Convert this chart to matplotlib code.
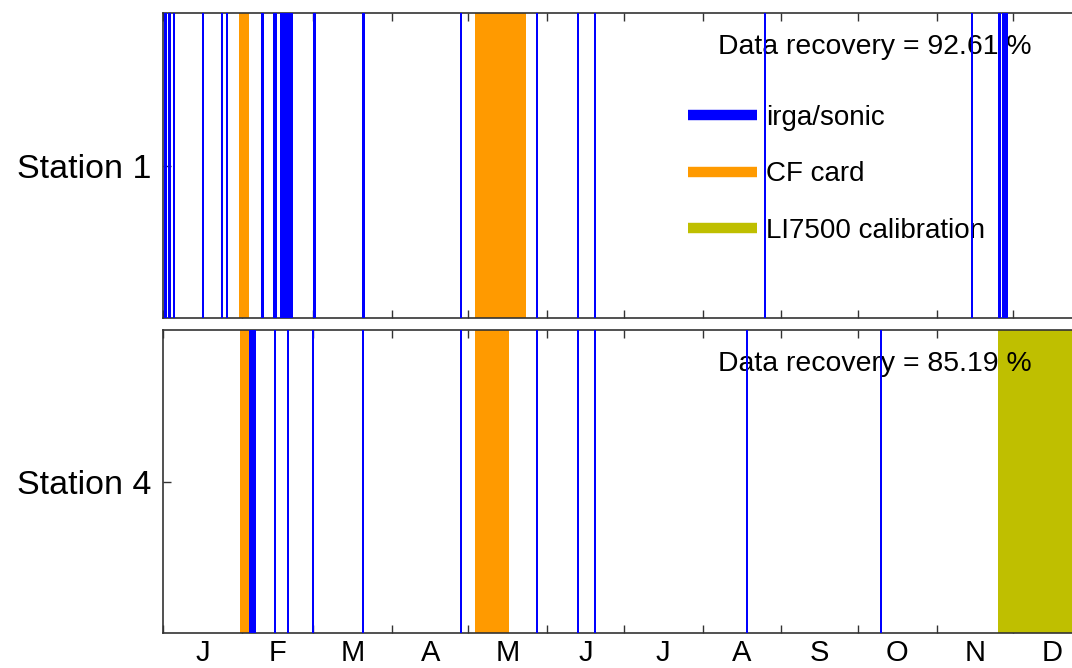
import matplotlib
matplotlib.use("Agg")
import matplotlib.pyplot as plt
from matplotlib.lines import Line2D
import numpy as np

plt.rcParams['font.family'] = ['Liberation Sans', 'DejaVu Sans']

# ---- data (day of year, start/end of each outage) ----
stations = ["Station 1", "Station 4"]
recovery = [92.61, 85.19]

s1_irga = [(0.3, 1.4), (2.1, 3.1), (3.8, 4.9), (15.3, 16.1), (22.7, 23.6), (24.6, 25.6),
           (38.4, 39.6), (43.1, 44.6), (46.1, 51.1), (59.0, 60.0), (78.3, 79.2),
           (116.5, 117.5), (146.5, 147.5), (162.6, 163.5), (169.4, 170.3),
           (236.2, 237.0), (317.4, 318.2), (328.0, 329.2), (329.6, 330.7), (331.0, 331.9)]
s1_cf = [(29.9, 33.8), (122.4, 142.6)]
s1_cal = []

s4_irga = [(33.8, 36.7), (43.5, 44.3), (48.9, 49.7), (58.5, 59.3), (78.2, 79.0),
           (116.5, 117.4), (146.6, 147.4), (162.7, 163.5), (169.4, 170.2),
           (229.1, 229.9), (281.8, 282.6)]
s4_cf = [(30.2, 33.8), (122.4, 136.1)]
s4_cal = [(328.0, 365.0)]

month_labels = ["J", "F", "M", "A", "M", "J", "J", "A", "S", "O", "N", "D"]
month_days = [31, 28, 31, 30, 31, 30, 31, 31, 30, 31, 30, 31]

legend_labels = ["irga/sonic", "CF card", "LI7500 calibration"]
colors = ["#0000FF", "#FF9A00", "#BFBF00"]

month_starts = np.concatenate([[0], np.cumsum(month_days)])
month_mids = (month_starts[:-1] + month_starts[1:]) / 2

W, H = 1072, 668
fig = plt.figure(figsize=(W / 100, H / 100), dpi=100)

left = 163 / W
width = 929 / W
ax1 = fig.add_axes([left, 1 - 318 / H, width, 305 / H])
ax2 = fig.add_axes([left, 1 - 633 / H, width, 303 / H])

data = [(s1_irga, s1_cf, s1_cal), (s4_irga, s4_cf, s4_cal)]

for ax, (irga, cf, cal), name, rec in zip([ax1, ax2], data, stations, recovery):
    for (a, b) in cal:
        ax.axvspan(a, b, color=colors[2], lw=0, zorder=2)
    for (a, b) in cf:
        ax.axvspan(a, b, color=colors[1], lw=0, zorder=2)
    for (a, b) in irga:
        ax.axvspan(a, b, color=colors[0], lw=0, zorder=4)
    ax.set_xlim(0, 365)
    ax.set_ylim(0, 1)
    ax.set_yticks([0.5])
    ax.set_yticklabels([name], fontsize=24.5)
    ax.set_xticks(month_starts[:-1])
    ax.set_xticklabels([])
    ax.set_xticks(month_mids, minor=True)
    ax.tick_params(axis='both', which='major', direction='in', length=6,
                   top=True, right=True, color='#333333', width=1)
    ax.tick_params(axis='y', pad=8.5)
    ax.tick_params(axis='x', which='minor', length=0, labelsize=21, pad=4)
    for sp in ax.spines.values():
        sp.set_color('#333333')
        sp.set_linewidth(1.2)
    ax.text(0.597, 0.887, f"Data recovery = {rec:.2f} %", transform=ax.transAxes,
            fontsize=20.4, ha='left', va='center', zorder=3)

ax1.set_xticklabels([], minor=True)
ax2.set_xticklabels(month_labels, minor=True)

handles = [Line2D([0], [0], color=c, lw=7.5, solid_capstyle='butt') for c in colors]
leg = ax1.legend(handles, legend_labels, loc='upper left', bbox_to_anchor=(0.565, 0.699),
                 frameon=False, fontsize=20, handlelength=2.5, handletextpad=0.3,
                 labelspacing=1.1, borderpad=0, borderaxespad=0)
leg.set_zorder(3)

fig.savefig("out.png", dpi=100)
